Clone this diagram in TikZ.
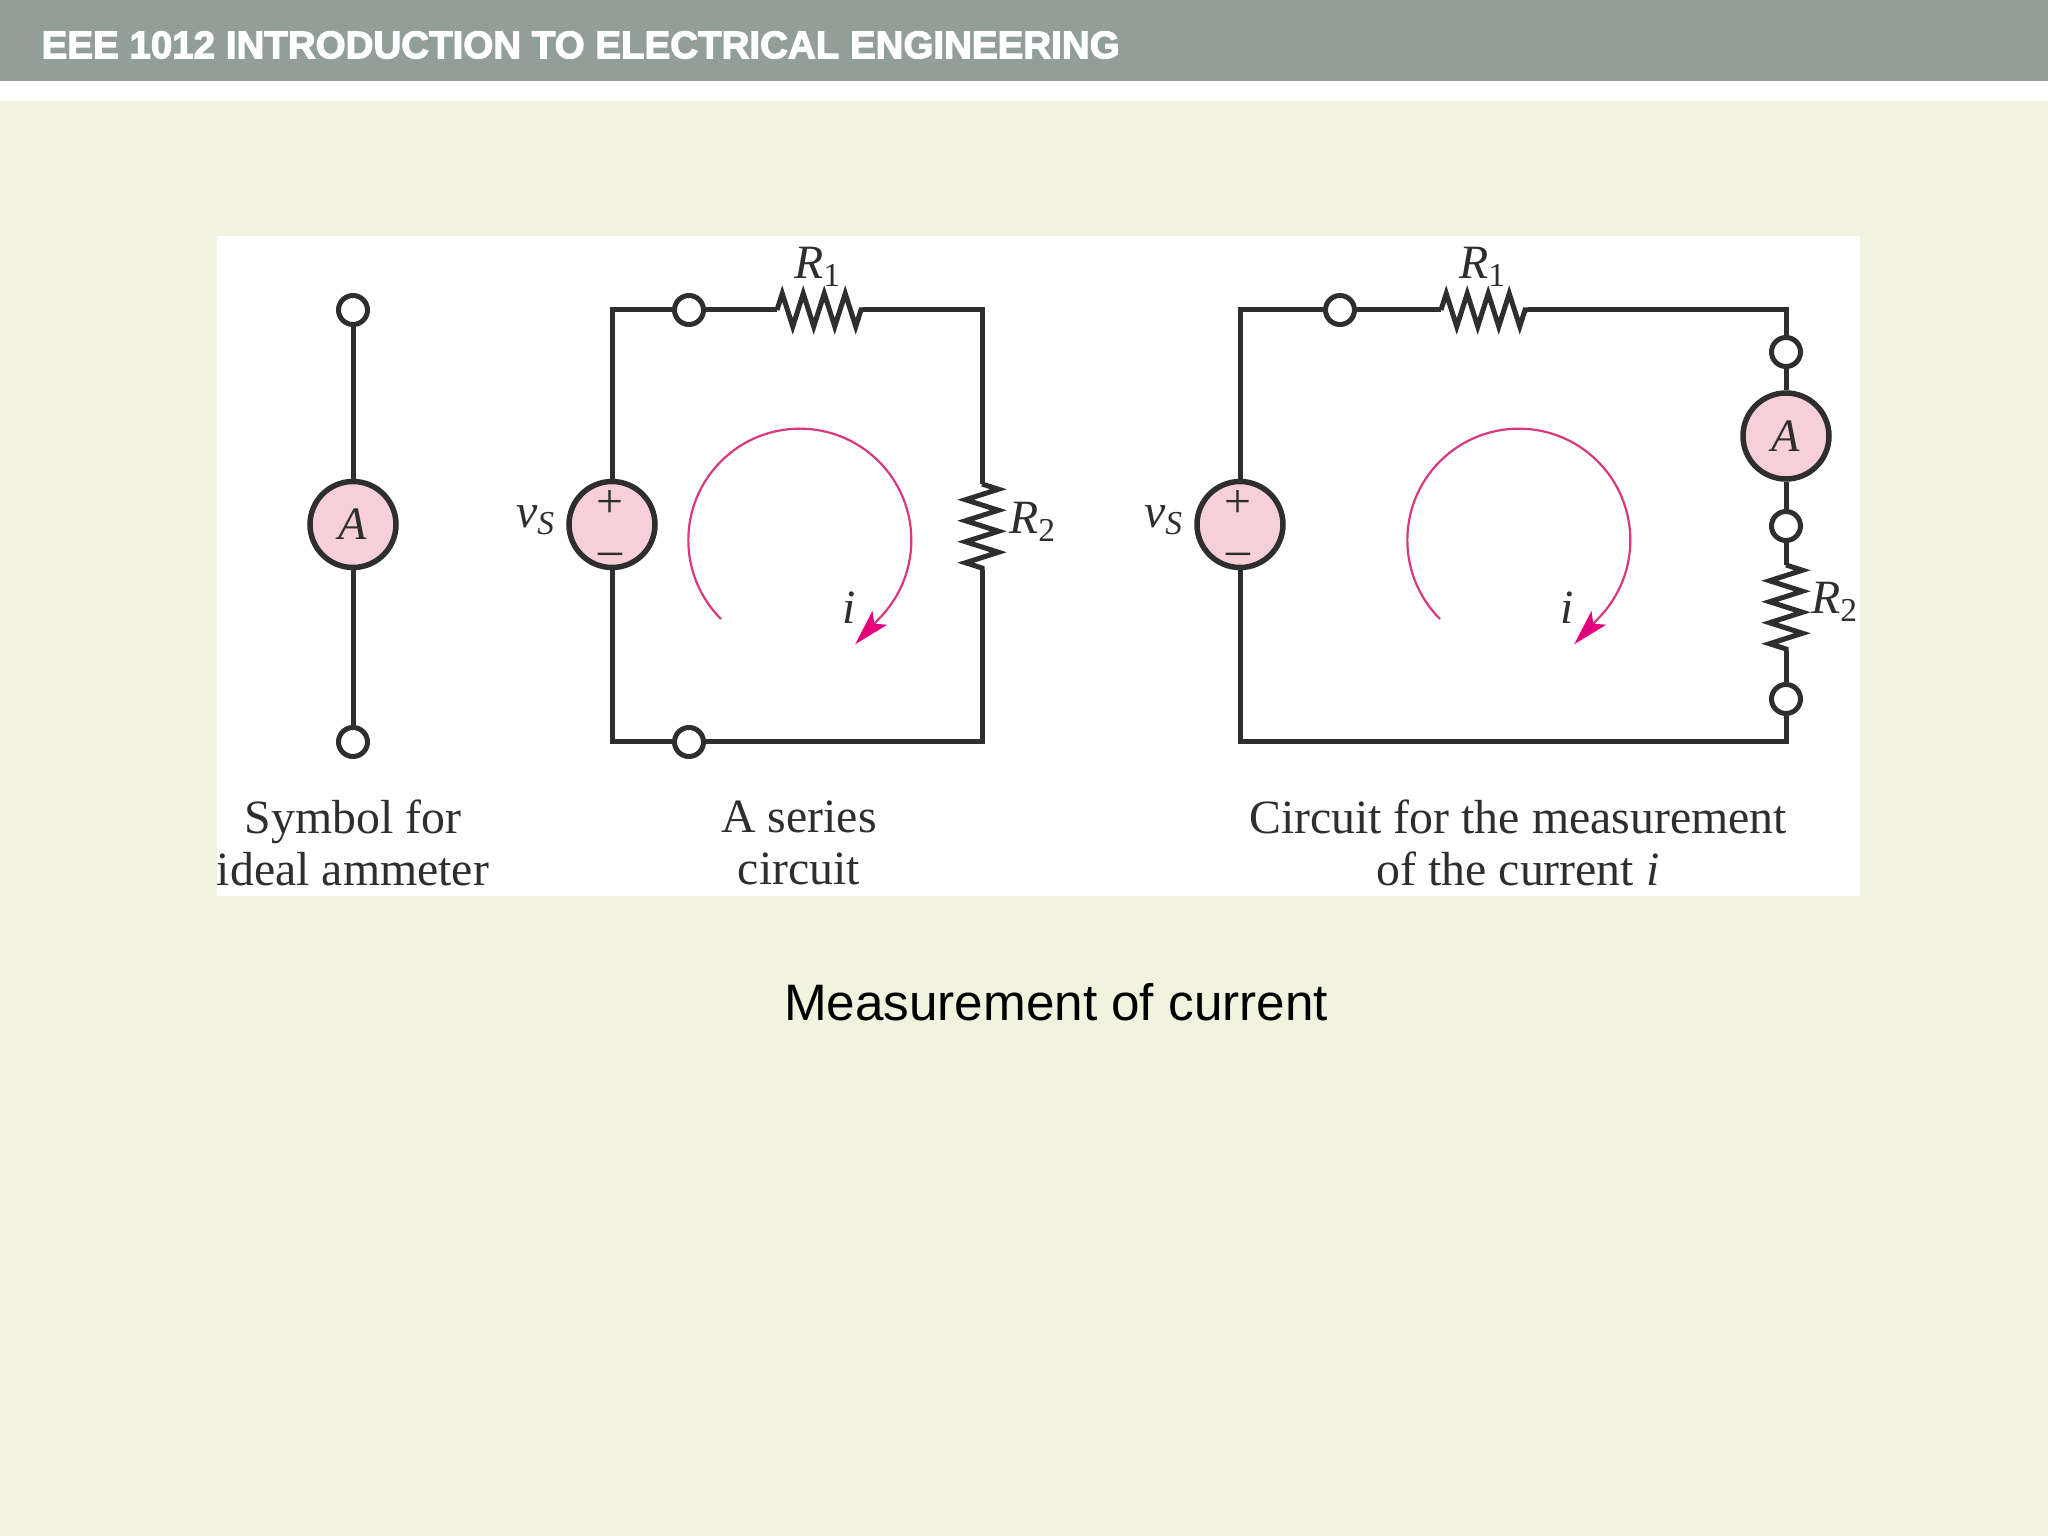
\documentclass[tikz,border=0pt]{standalone}
\usepackage{fontspec}
\setmainfont{Liberation Serif}
\newfontfamily\headfont[BoldFeatures={FakeBold=3}]{Liberation Sans}
\usetikzlibrary{arrows.meta, decorations.pathmorphing}

\definecolor{slidebg}{HTML}{F1F3DF}
\definecolor{headbar}{HTML}{929F98}
\definecolor{meterpink}{HTML}{F6CFD9}
\definecolor{looppink}{HTML}{D8387F}
\definecolor{arrowpink}{HTML}{E4007C}
\definecolor{inkgray}{HTML}{2E2E2E}

\tikzset{
	wire/.style={draw=inkgray, line width=.05cm},
	terminal/.style={circle, draw=inkgray, line width=.05cm, fill=white, minimum size=.29cm, inner sep=0pt},
	meter/.style={circle, draw=inkgray, line width=.055cm, fill=meterpink, minimum size=.86cm, inner sep=0pt, text=inkgray, font=\fontsize{13.2}{14}\selectfont\itshape},
	resistor/.style={wire, decorate, decoration={zigzag, segment length=.21cm, amplitude=.165cm}},
	currentloop/.style={draw=looppink, line width=.022cm},
	caption/.style={align=center, text=inkgray, inner sep=0pt, font=\fontsize{13.6}{14.7}\selectfont},
	symbol/.style={text=inkgray, inner sep=0pt, font=\fontsize{13.6}{14}\selectfont},
	looptip/.style={-{Stealth[length=.36cm, width=.2cm, inset=.08cm, fill=arrowpink, color=arrowpink]}}
}

\begin{document}
\begin{tikzpicture}
	% Фон и заголовок
	\fill[slidebg] (0,0) rectangle (20.48,-15.36);
	\fill[white] (0,-.81) rectangle (20.48,-1.01);
	\fill[headbar] (0,0) rectangle (20.48,-.81);
	\fill[white] (2.17,-2.36) rectangle (18.6,-8.96);
	\node[anchor=west, inner sep=0pt, text=white, font=\headfont\fontsize{10.96}{12}\selectfont\bfseries] (title) at (.41,-.45) {EEE 1012 INTRODUCTION TO ELECTRICAL ENGINEERING};
	\node[inner sep=0pt, font=\headfont\fontsize{14.58}{16}\selectfont] (subtitle) at (10.56,-10.02) {Measurement of current};

	% Символ амперметра
	\node[terminal] (st) at (3.53,-3.10) {};
	\node[meter] (sa) at (3.53,-5.245) {A};
	\node[terminal] (sb) at (3.53,-7.42) {};
	\draw[wire] (st) -- (sa);
	\draw[wire] (sa) -- (sb);
	\node[caption] (scap) at (3.53,-8.43) {Symbol for\\ideal ammeter};

	% Последовательная цепь
	\node[meter] (va) at (6.12,-5.245) {};
	\node[symbol] at (6.10,-5.04) {+};
	\node[symbol] at (6.10,-5.59) {\textendash};
	\node[symbol] (vsa) at (5.36,-5.20) {\textit{v}\textsubscript{\textit{S}}};
	\node[terminal] (ta) at (6.89,-3.10) {};
	\node[terminal] (tb) at (6.89,-7.42) {};
	\coordinate (r1a) at (7.77,-3.10);
	\coordinate (r1b) at (8.63,-3.10);
	\coordinate (r2a) at (9.82,-4.84);
	\coordinate (r2b) at (9.82,-5.70);
	\draw[wire] (va.north) |- (ta.west);
	\draw[wire] (ta) -- (r1a);
	\draw[resistor] (r1a) -- (r1b);
	\draw[wire] (r1b) -| (r2a);
	\draw[resistor] (r2a) -- (r2b);
	\draw[wire] (r2b) |- (tb.east);
	\draw[wire] (tb.west) -| (va.south);
	\node[symbol] (r1la) at (8.18,-2.67) {\textit{R}\textsubscript{1}};
	\node[symbol] (r2la) at (10.33,-5.22) {\textit{R}\textsubscript{2}};
	\draw[currentloop, looptip] (7.21,-6.19) arc[start angle=225, end angle=-42, radius=1.115] -- ++(-.275,-.295);
	\node[symbol] (ia) at (8.49,-6.08) {\textit{i}};
	\node[caption] (acap) at (7.99,-8.43) {A series\\circuit};

	% Цепь с амперметром
	\node[meter] (vb) at (12.40,-5.245) {};
	\node[symbol] at (12.38,-5.04) {+};
	\node[symbol] at (12.38,-5.59) {\textendash};
	\node[symbol] (vsb) at (11.64,-5.20) {\textit{v}\textsubscript{\textit{S}}};
	\node[terminal] (tc) at (13.40,-3.10) {};
	\coordinate (r3a) at (14.41,-3.10);
	\coordinate (r3b) at (15.28,-3.10);
	\node[terminal] (td) at (17.86,-3.52) {};
	\node[meter] (mb) at (17.86,-4.36) {A};
	\node[terminal] (te) at (17.86,-5.26) {};
	\coordinate (r4a) at (17.86,-5.65);
	\coordinate (r4b) at (17.86,-6.51);
	\node[terminal] (tf) at (17.86,-6.99) {};
	\draw[wire] (vb.north) |- (tc.west);
	\draw[wire] (tc) -- (r3a);
	\draw[resistor] (r3a) -- (r3b);
	\draw[wire] (r3b) -| (td.north);
	\draw[wire] (td) -- (mb);
	\draw[wire] (mb) -- (te);
	\draw[wire] (te) -- (r4a);
	\draw[resistor] (r4a) -- (r4b);
	\draw[wire] (r4b) -- (tf);
	\draw[wire] (tf.south) |- (12.40,-7.42) -- (vb.south);
	\node[symbol] (r3la) at (14.83,-2.67) {\textit{R}\textsubscript{1}};
	\node[symbol] (r4la) at (18.35,-6.02) {\textit{R}\textsubscript{2}};
	\draw[currentloop, looptip] (14.40,-6.19) arc[start angle=225, end angle=-42, radius=1.115] -- ++(-.275,-.295);
	\node[symbol] (ib) at (15.67,-6.08) {\textit{i}};
	\node[caption] (bcap) at (15.18,-8.43) {Circuit for the measurement\\of the current \textit{i}};
\end{tikzpicture}
\end{document}
